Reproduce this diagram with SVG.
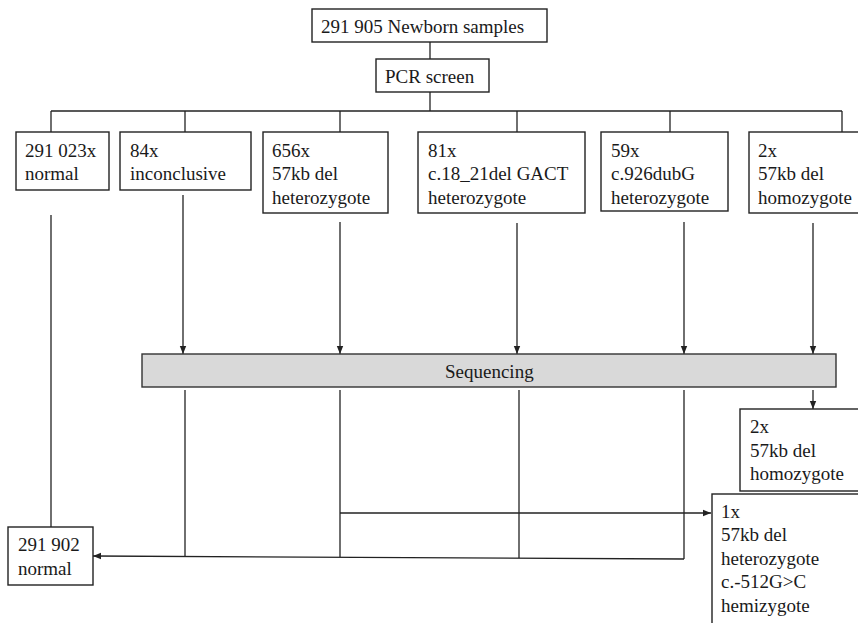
<svg xmlns="http://www.w3.org/2000/svg" width="858" height="623" viewBox="0 0 858 623">
<style>
.box{fill:#fff;stroke:#222;stroke-width:1.4}
.seq{fill:#d9d9d9;stroke:#333;stroke-width:1.4}
.t{font-family:"Liberation Serif","Times New Roman",serif;font-size:19px;fill:#1a1a1a}
.ln{fill:none;stroke:#222;stroke-width:1.3}
.ar{fill:none;stroke:#222;stroke-width:1.3;marker-end:url(#ah)}
</style>
<defs>
<marker id="ah" viewBox="0 0 10 10" refX="10" refY="5" markerWidth="8" markerHeight="8" markerUnits="userSpaceOnUse" orient="auto">
<path d="M0,1 L10,5 L0,9 Z" fill="#222"/>
</marker>
</defs>
<rect width="858" height="623" fill="#fff"/>
<g id="connectors">
<line class="ln" x1="430" y1="42" x2="430" y2="59"/>
<line class="ln" x1="430" y1="92" x2="430" y2="111"/>
<line class="ln" x1="51" y1="111" x2="842" y2="111"/>
<line class="ln" x1="51" y1="111" x2="51" y2="132"/>
<line class="ln" x1="185" y1="111" x2="185" y2="132"/>
<line class="ln" x1="340" y1="111" x2="340" y2="132"/>
<line class="ln" x1="517" y1="111" x2="517" y2="132"/>
<line class="ln" x1="670" y1="111" x2="670" y2="132"/>
<line class="ln" x1="842" y1="111" x2="842" y2="132"/>
<line class="ln" x1="51" y1="215" x2="51" y2="527"/>
<line class="ar" x1="183" y1="195" x2="183" y2="354"/>
<line class="ar" x1="340" y1="222" x2="340" y2="354"/>
<line class="ar" x1="517" y1="223" x2="517" y2="354"/>
<line class="ar" x1="684" y1="222" x2="684" y2="354"/>
<line class="ar" x1="813" y1="223" x2="813" y2="354"/>
<line class="ar" x1="813" y1="390" x2="813" y2="409"/>
<line class="ln" x1="185" y1="390" x2="185" y2="557"/>
<line class="ln" x1="340" y1="390" x2="340" y2="557"/>
<line class="ln" x1="519" y1="390" x2="519" y2="558"/>
<polyline class="ln" points="684,390 684,559"/>
<line class="ar" x1="684" y1="559" x2="93" y2="556"/>
<line class="ar" x1="340" y1="513" x2="711" y2="513"/>
</g>
<g id="n-newborn"><rect class="box" x="312" y="9" width="235" height="33"/><text class="t" x="321" y="33">291 905 Newborn samples</text></g>
<g id="n-pcr"><rect class="box" x="376" y="59" width="113" height="33"/><text class="t" x="385" y="83">PCR screen</text></g>
<g id="n-normal"><rect class="box" x="16" y="132" width="93" height="58"/><text class="t" x="25" y="157">291 023x</text><text class="t" x="25" y="180">normal</text></g>
<g id="n-inconclusive"><rect class="box" x="120" y="132" width="131" height="58"/><text class="t" x="130" y="157">84x</text><text class="t" x="130" y="180">inconclusive</text></g>
<g id="n-656"><rect class="box" x="263" y="132" width="125" height="81"/><text class="t" x="272" y="157">656x</text><text class="t" x="272" y="180">57kb del</text><text class="t" x="272" y="204">heterozygote</text></g>
<g id="n-81"><rect class="box" x="418" y="132" width="167" height="81"/><text class="t" x="428" y="157">81x</text><text class="t" x="428" y="180">c.18_21del GACT</text><text class="t" x="428" y="204">heterozygote</text></g>
<g id="n-59"><rect class="box" x="601" y="132" width="127" height="79"/><text class="t" x="611" y="157">59x</text><text class="t" x="611" y="180">c.926dubG</text><text class="t" x="611" y="204">heterozygote</text></g>
<g id="n-2x"><rect class="box" x="749" y="132" width="112" height="81"/><text class="t" x="758" y="157">2x</text><text class="t" x="758" y="180">57kb del</text><text class="t" x="758" y="204">homozygote</text></g>
<g id="n-seq"><rect class="seq" x="142" y="354" width="694" height="33"/><text class="t" x="445" y="378">Sequencing</text></g>
<g id="n-2x-result"><rect class="box" x="740" y="409" width="121" height="82"/><text class="t" x="750" y="433">2x</text><text class="t" x="750" y="457">57kb del</text><text class="t" x="750" y="480">homozygote</text></g>
<g id="n-1x-result"><rect class="box" x="712" y="494" width="149" height="135"/><text class="t" x="721" y="518">1x</text><text class="t" x="721" y="541">57kb del</text><text class="t" x="721" y="565">heterozygote</text><text class="t" x="721" y="588">c.-512G&gt;C</text><text class="t" x="721" y="612">hemizygote</text></g>
<g id="n-normal-result"><rect class="box" x="8" y="527" width="85" height="58"/><text class="t" x="18" y="551">291 902</text><text class="t" x="18" y="575">normal</text></g>
</svg>
